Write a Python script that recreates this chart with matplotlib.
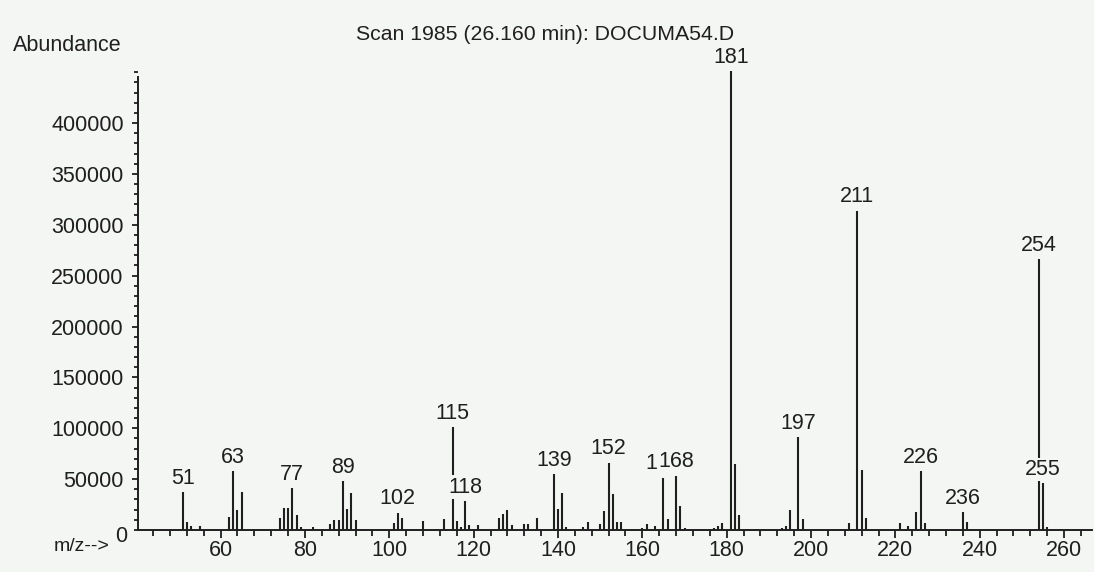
import matplotlib.pyplot as plt
from matplotlib.ticker import MultipleLocator, FixedLocator

# Mass spectrum peaks (m/z, abundance)
mz = [51, 52, 53, 55, 62, 63, 64, 65, 74, 75, 76, 77, 78, 79, 82, 86, 87, 88,
      89, 90, 91, 92, 101, 102, 103, 108, 113, 115, 116, 117, 118, 119, 121,
      126, 127, 128, 129, 132, 133, 135, 139, 140, 141, 142, 146, 147, 150,
      151, 152, 153, 154, 155, 160, 161, 163, 165, 166, 168, 169, 170, 177,
      178, 179, 181, 182, 183, 193, 194, 195, 197, 198, 209, 211, 212, 213,
      221, 223, 225, 226, 227, 236, 237, 254, 255, 256]
abundance = [37000, 8000, 4000, 4000, 13000, 58000, 20000, 37000, 11500, 22000,
             22000, 41000, 15000, 3000, 3000, 5500, 9500, 9500, 48000, 20500,
             36000, 9500, 6500, 17000, 11500, 9000, 11000, 101000, 9000, 3000,
             28500, 5000, 5000, 11500, 15500, 20000, 5000, 5500, 5500, 12000,
             55000, 20500, 36000, 3000, 3000, 8000, 6000, 18500, 66000, 35500,
             8000, 8000, 2000, 6000, 4300, 51500, 10500, 53500, 23500, 2000,
             2000, 4300, 6500, 451000, 64500, 15000, 2000, 4300, 20000, 91000,
             11000, 7000, 314000, 59000, 11500, 6500, 4300, 17500, 58000, 7000,
             17500, 7500, 266000, 46000, 3300]

# peaks that get an m/z label
labelled = [51, 63, 77, 89, 102, 115, 118, 139, 152, 165, 168, 181, 197, 211,
            226, 236, 254, 255]

yticks = [50000, 100000, 150000, 200000, 250000, 300000, 350000, 400000]
xticks = [60, 80, 100, 120, 140, 160, 180, 200, 220, 240, 260]

title = "Scan 1985 (26.160 min): DOCUMA54.D"

bg = "#f4f6f3"
ink = "#1f1f1f"
fs = 15.5
plt.rcParams["font.family"] = ["Liberation Sans", "DejaVu Sans"]

fig = plt.figure(figsize=(10.94, 5.72), dpi=100, facecolor=bg)
ax = fig.add_axes([0.1261, 0.0734, 0.872, 0.804])
ax.set_facecolor(bg)

ax.vlines(mz, 0, abundance, color=ink, linewidth=1.5, zorder=2)

ax.set_xlim(40.4, 266.6)
ax.set_ylim(0, 452000)

for side in ("top", "right"):
    ax.spines[side].set_visible(False)
for side in ("left", "bottom"):
    ax.spines[side].set_color(ink)
    ax.spines[side].set_linewidth(1.4)
ax.spines["left"].set_bounds(0, 445000)

ax.xaxis.set_major_locator(FixedLocator(xticks))
ax.xaxis.set_minor_locator(MultipleLocator(4))
ax.yaxis.set_major_locator(FixedLocator(yticks))
ax.yaxis.set_minor_locator(MultipleLocator(10000))
ax.set_xticklabels([str(t) for t in xticks])
ax.set_yticklabels([str(t) for t in yticks])

ax.tick_params(axis="x", which="major", length=5.5, width=1.3, color=ink,
               pad=1.5, labelsize=fs, labelcolor=ink)
ax.tick_params(axis="x", which="minor", length=4, width=1.3, color=ink)
ax.tick_params(axis="y", which="major", length=4.3, width=1.3, color=ink,
               pad=6, labelsize=fs, labelcolor=ink)
ax.tick_params(axis="y", which="minor", length=3, width=1.3, color=ink)

# zero label and axis caption in the lower left corner
ax.annotate("0", xy=(0, 0), xycoords=("axes fraction", "data"),
            xytext=(-8, -5), textcoords="offset points",
            ha="right", va="center", fontsize=fs, color=ink)
fig.text(0.0745, 0.044, "m/z-->", ha="center", va="center", fontsize=14,
         color=ink)

fig.text(0.012, 0.921, "Abundance", ha="left", va="center", fontsize=15.5,
         color=ink)
fig.text(0.4985, 0.94, title, ha="center", va="center", fontsize=15.3,
         color=ink)

peak = dict(zip(mz, abundance))
for i, m in enumerate(labelled):
    ax.annotate(str(m), xy=(m, peak[m]), xytext=(0, 2.5),
                textcoords="offset points", ha="center", va="bottom",
                fontsize=fs, color=ink, zorder=3 + i, annotation_clip=False,
                bbox=dict(boxstyle="square,pad=0.05", facecolor=bg,
                          edgecolor="none"))

fig.savefig("out.png", dpi=100, facecolor=bg)
